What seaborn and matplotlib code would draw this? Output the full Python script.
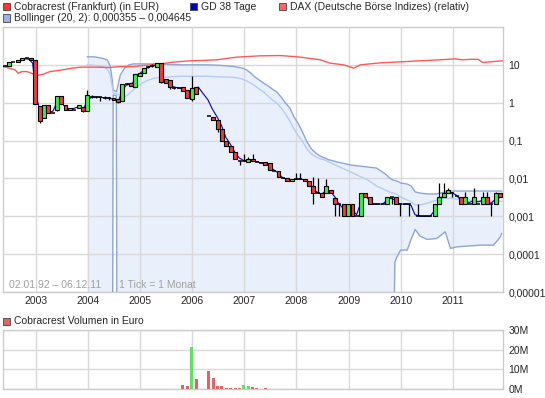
import pandas as pd
import numpy as np
import matplotlib
matplotlib.use("Agg")
import matplotlib.pyplot as plt
import matplotlib.dates as mdates
from matplotlib.patches import Rectangle
import seaborn as sns

sns.set_style("white")
plt.rcParams['font.family'] = ['Liberation Sans', 'DejaVu Sans']

# monatliche Kerzen (Open, High, Low, Close) in EUR
cand_months = [
    "2002-05", "2002-06", "2002-07", "2002-08", "2002-09", "2002-10", "2002-11", "2002-12",
    "2003-01", "2003-02", "2003-03", "2003-04", "2003-05", "2003-06", "2003-07", "2003-08",
    "2003-09", "2003-10", "2003-11", "2003-12",
    "2004-01", "2004-02", "2004-03", "2004-04", "2004-05", "2004-06", "2004-07", "2004-08",
    "2004-09", "2004-10", "2004-11", "2004-12",
    "2005-01", "2005-02", "2005-03", "2005-04", "2005-05", "2005-06", "2005-07", "2005-08",
    "2005-09", "2005-10", "2005-11", "2005-12",
    "2006-01", "2006-04", "2006-05", "2006-06", "2006-07", "2006-08", "2006-09", "2006-10",
    "2006-11", "2006-12",
    "2007-01", "2007-02", "2007-03", "2007-04", "2007-05", "2007-06", "2007-07", "2007-08",
    "2007-09", "2007-10", "2007-11", "2007-12",
    "2008-01", "2008-02", "2008-03", "2008-04", "2008-05", "2008-06", "2008-07", "2008-08",
    "2008-09", "2008-10", "2008-11", "2008-12",
    "2009-01", "2009-02", "2009-03", "2009-04", "2009-05", "2009-06", "2009-07", "2009-08",
    "2009-09", "2009-10", "2009-11", "2009-12",
    "2010-01", "2010-02", "2010-04", "2010-05", "2010-06", "2010-07", "2010-08", "2010-09",
    "2010-10", "2010-11", "2010-12",
    "2011-01", "2011-02", "2011-03", "2011-04", "2011-05", "2011-06", "2011-07", "2011-08",
    "2011-09", "2011-10", "2011-11",
]
cand_open = [
    9.6, 9.4, 12.0, 12.0, 13.3, 15.0, 15.0, 13.3,
    0.82, 0.39, 0.87, 0.53, 0.64, 1.51, 0.87, 0.64,
    0.66, 0.74, 0.76, 0.62,
    1.45, 1.4, 1.4, 1.35, 1.35, 1.37, 1.28, 1.11,
    3.1, 3.4, 2.65, 5.1,
    6.25, 9.0, 9.2, 8.7, 11.5, 4.2, 4.0, 2.5,
    2.4, 2.57, 2.2, 1.24,
    2.57, 0.45, 0.41, 0.35, 0.20, 0.10, 0.072, 0.051,
    0.029, 0.0285,
    0.028, 0.033, 0.028, 0.026, 0.027, 0.026, 0.016, 0.0155,
    0.0102, 0.0101, 0.0084, 0.0097,
    0.0097, 0.0094, 0.0087, 0.0063, 0.0042, 0.0041, 0.0040, 0.0050,
    0.0031, 0.0021, 0.0021, 0.0010,
    0.0021, 0.0010, 0.0010, 0.0040, 0.0032, 0.0021, 0.0021, 0.0021,
    0.0021, 0.0032, 0.0032, 0.0021,
    0.0021, 0.0021, 0.0010, 0.0010, 0.0010, 0.0010, 0.0010, 0.0021,
    0.0032, 0.0040, 0.0040,
    0.0035, 0.0032, 0.0021, 0.0021, 0.0021, 0.0021, 0.0021, 0.0032,
    0.0021, 0.0021, 0.0040,
]
cand_high = [
    9.8, 11.8, 12.0, 13.5, 15.0, 15.0, 15.0, 13.3,
    0.82, 0.87, 0.87, 0.55, 1.51, 1.51, 0.87, 0.74,
    0.66, 0.87, 0.76, 2.2,
    1.6, 1.5, 1.45, 1.5, 1.4, 1.37, 1.28, 3.14,
    3.3, 3.4, 5.8, 6.25,
    8.2, 9.6, 10.5, 11.5, 11.5, 4.2, 4.0, 2.6,
    2.4, 2.57, 2.2, 5.0,
    2.57, 0.45, 0.41, 0.35, 0.20, 0.10, 0.072, 0.051,
    0.029, 0.045,
    0.036, 0.045, 0.028, 0.026, 0.027, 0.026, 0.016, 0.0155,
    0.0102, 0.0101, 0.0096, 0.014,
    0.014, 0.0094, 0.0087, 0.011, 0.010, 0.0041, 0.0095, 0.0050,
    0.0031, 0.0021, 0.0021, 0.0021,
    0.0021, 0.0010, 0.0040, 0.0040, 0.0032, 0.0021, 0.0021, 0.0021,
    0.0032, 0.0032, 0.0032, 0.0021,
    0.0021, 0.0021, 0.0021, 0.0010, 0.0010, 0.0010, 0.0021, 0.0075,
    0.0075, 0.0055, 0.0040,
    0.0035, 0.0032, 0.0045, 0.0021, 0.0055, 0.0021, 0.0045, 0.0045,
    0.0021, 0.0045, 0.0040,
]
cand_low = [
    9.4, 9.4, 12.0, 12.0, 13.3, 15.0, 13.3, 0.93,
    0.29, 0.39, 0.53, 0.53, 0.60, 0.91, 0.64, 0.64,
    0.66, 0.74, 0.58, 0.62,
    1.3, 1.3, 1.1, 1.25, 1.2, 1.18, 1.0, 1.11,
    2.9, 2.8, 2.65, 5.1,
    6.25, 8.5, 8.8, 8.7, 3.3, 3.3, 2.3, 2.3,
    2.4, 2.1, 1.3, 1.1,
    1.7, 0.45, 0.35, 0.17, 0.10, 0.07, 0.051, 0.032,
    0.022, 0.0285,
    0.028, 0.029, 0.028, 0.026, 0.023, 0.017, 0.016, 0.011,
    0.0102, 0.0086, 0.0084, 0.0097,
    0.0097, 0.0083, 0.0063, 0.0021, 0.0042, 0.0032, 0.0040, 0.0040,
    0.0010, 0.0010, 0.0010, 0.0010,
    0.0010, 0.0010, 0.0010, 0.0032, 0.0021, 0.0021, 0.0021, 0.0021,
    0.0021, 0.0021, 0.0021, 0.0010,
    0.0021, 0.0010, 0.0010, 0.0010, 0.0010, 0.0010, 0.0010, 0.0021,
    0.0032, 0.0040, 0.0032,
    0.0035, 0.0021, 0.0021, 0.0021, 0.0021, 0.0021, 0.0021, 0.0021,
    0.0010, 0.0021, 0.0032,
]
cand_close = [
    9.6, 11.8, 12.0, 13.5, 15.0, 15.0, 13.3, 0.93,
    0.32, 0.87, 0.53, 0.53, 1.51, 0.91, 0.64, 0.74,
    0.66, 0.87, 0.62, 1.58,
    1.45, 1.4, 1.4, 1.35, 1.35, 1.18, 1.07, 3.14,
    3.1, 2.8, 5.8, 6.25,
    8.2, 9.0, 9.2, 11.5, 3.5, 3.3, 2.6, 2.5,
    2.4, 2.1, 1.3, 2.4,
    1.7, 0.45, 0.35, 0.20, 0.10, 0.07, 0.051, 0.032,
    0.029, 0.029,
    0.032, 0.029, 0.028, 0.026, 0.023, 0.017, 0.016, 0.011,
    0.0102, 0.0086, 0.0096, 0.0097,
    0.0097, 0.0083, 0.0063, 0.0041, 0.0042, 0.0032, 0.0062, 0.0040,
    0.0021, 0.0021, 0.0010, 0.0021,
    0.0010, 0.0010, 0.0040, 0.0032, 0.0021, 0.0021, 0.0021, 0.0021,
    0.0032, 0.0032, 0.0021, 0.0021,
    0.0021, 0.0021, 0.0010, 0.0010, 0.0010, 0.0010, 0.0021, 0.0032,
    0.0040, 0.0050, 0.0040,
    0.0035, 0.0021, 0.0032, 0.0021, 0.0032, 0.0021, 0.0032, 0.0021,
    0.0021, 0.0040, 0.0032,
]

# GD 38 Tage
gd_dates = [
    "2002-10-15", "2002-11-15", "2002-12-10", "2002-12-25", "2003-01-10", "2003-02-01",
    "2003-03-01", "2003-04-01", "2003-05-01", "2003-06-01", "2003-07-01", "2003-08-01",
    "2003-09-01", "2003-10-01", "2003-11-01", "2003-12-01", "2004-01-01", "2004-02-01",
    "2004-04-01", "2004-06-01", "2004-07-01", "2004-08-01", "2004-09-01", "2004-10-01",
    "2004-11-01", "2004-12-01", "2005-01-01", "2005-02-01", "2005-03-01", "2005-04-01",
    "2005-05-01", "2005-05-25", "2005-06-15", "2005-07-15", "2005-08-15", "2005-09-15",
    "2005-10-15", "2005-11-15", "2005-12-15", "2006-01-15", "2006-02-12", "2006-03-15",
    "2006-04-21", "2006-05-20", "2006-06-24", "2006-07-25", "2006-08-25", "2006-09-25",
    "2006-10-25", "2006-11-25", "2006-12-25", "2007-01-25", "2007-02-25", "2007-03-25",
    "2007-04-25", "2007-05-25", "2007-06-25", "2007-07-25", "2007-08-25", "2007-09-25",
    "2007-10-25", "2007-11-25", "2007-12-25", "2008-01-25", "2008-02-25", "2008-03-25",
    "2008-04-25", "2008-05-25", "2008-06-25", "2008-07-25", "2008-08-25", "2008-09-25",
    "2008-10-25", "2008-11-25", "2008-12-25", "2009-01-25", "2009-02-25", "2009-03-25",
    "2009-04-25", "2009-05-25", "2009-06-25", "2009-08-25", "2009-09-25", "2009-10-25",
    "2009-11-25", "2009-12-25", "2010-02-25", "2010-03-15", "2010-04-10", "2010-05-25",
    "2010-07-25", "2010-08-25", "2010-09-25", "2010-10-25", "2010-11-25", "2010-12-25",
    "2011-01-25", "2011-02-25", "2011-03-25", "2011-04-25", "2011-05-25", "2011-06-25",
    "2011-07-25", "2011-08-25", "2011-09-25", "2011-10-25", "2011-11-25",
]
gd_values = [
    14.5, 14.0, 11.0, 3.0, 1.2, 0.6,
    0.62, 0.55, 0.6, 1.1, 1.0, 0.7,
    0.68, 0.72, 0.8, 0.7, 1.2, 1.42,
    1.38, 1.32, 1.2, 1.1, 2.2, 3.1,
    3.0, 4.5, 6.0, 7.5, 8.8, 9.2,
    10.2, 7.0, 4.2, 3.6, 2.7, 2.5,
    2.4, 2.0, 1.6, 2.1, 2.6, 1.8,
    1.19, 0.7, 0.42, 0.25, 0.12, 0.08,
    0.05, 0.035, 0.03, 0.03, 0.031, 0.028,
    0.026, 0.025, 0.021, 0.017, 0.014, 0.0105,
    0.0095, 0.009, 0.0095, 0.0097, 0.0092, 0.0075,
    0.0055, 0.0043, 0.0038, 0.0048, 0.0046, 0.0033,
    0.0021, 0.0016, 0.0015, 0.0015, 0.0011, 0.0022,
    0.0035, 0.0027, 0.0021, 0.0021, 0.0026, 0.003,
    0.0026, 0.0021, 0.0021, 0.0019, 0.0011, 0.001,
    0.001, 0.0014, 0.0025, 0.0035, 0.0045, 0.0042,
    0.0036, 0.0027, 0.0026, 0.0023, 0.0026, 0.0024,
    0.0026, 0.0025, 0.0022, 0.0028, 0.0031,
]

# DAX (relativ)
dax_dates = [
    "2002-05-16", "2002-06-13", "2002-08-08", "2002-08-31", "2002-09-24", "2002-10-29",
    "2002-12-03", "2003-01-08", "2003-02-23", "2003-04-11", "2003-06-08", "2003-08-06",
    "2003-09-10", "2003-11-18", "2004-02-08", "2004-06-05", "2004-08-02", "2004-11-15",
    "2005-01-24", "2005-05-21", "2005-08-22", "2005-12-17", "2006-02-25", "2006-06-22",
    "2006-11-09", "2007-04-21", "2007-09-09", "2007-12-11", "2008-01-27", "2008-06-16",
    "2008-08-24", "2008-11-26", "2009-02-05", "2009-03-23", "2009-08-10", "2009-12-29",
    "2010-05-17", "2010-10-05", "2011-01-17", "2011-03-07", "2011-05-10", "2011-06-28",
    "2011-07-27", "2011-09-20", "2011-12-15",
]
dax_values = [
    9.0, 8.5, 7.4, 6.0, 6.65, 6.65,
    6.0, 5.2, 5.7, 6.65, 7.1, 7.7,
    8.2, 8.7, 8.7, 8.5, 9.0, 9.0,
    9.6, 10.6, 11.8, 12.8, 13.0, 13.6,
    16.0, 17.3, 17.6, 16.6, 16.0, 13.6,
    11.1, 10.0, 8.2, 10.0, 11.3, 12.0,
    12.8, 13.6, 14.4, 13.6, 14.0, 14.0,
    11.6, 12.0, 12.8,
]

# Bollinger (20, 2); 0 = unteres Band <= 0 (im Log-Chart nicht sichtbar)
bb_dates = [
    "2003-12-26", "2004-02-15", "2004-04-15", "2004-05-15", "2004-06-05", "2004-06-20",
    "2004-06-26", "2004-07-18", "2004-07-24", "2004-08-15", "2004-09-15", "2004-10-15",
    "2004-11-15", "2004-12-15", "2005-02-15", "2005-04-15", "2005-07-15", "2005-10-15",
    "2006-01-15", "2006-04-15", "2006-07-15", "2006-10-15", "2006-12-15", "2007-01-15",
    "2007-02-15", "2007-03-15", "2007-04-15", "2007-05-15", "2007-06-15", "2007-07-15",
    "2007-08-15", "2007-09-15", "2007-10-15", "2007-11-15", "2007-12-15", "2008-01-15",
    "2008-02-15", "2008-03-15", "2008-04-15", "2008-05-15", "2008-06-15", "2008-07-15",
    "2008-08-15", "2008-09-15", "2008-10-15", "2008-11-15", "2008-12-15", "2009-01-15",
    "2009-03-15", "2009-05-15", "2009-07-15", "2009-08-15", "2009-09-15", "2009-10-15",
    "2009-11-05", "2009-11-20", "2009-12-05", "2009-12-31", "2010-02-15", "2010-03-15",
    "2010-04-12", "2010-05-15", "2010-07-05", "2010-09-10", "2010-11-08", "2010-12-15",
    "2011-01-30", "2011-07-12", "2011-10-12", "2011-11-28", "2011-12-10",
]
bb_upper = [
    16.3, 16.3, 14.8, 13.5, 9.4, 3.8,
    2.2, 1.93, 2.3, 5.4, 8.3, 10.0,
    10.6, 10.6, 10.6, 10.6, 10.3, 10.0,
    10.0, 10.0, 9.7, 9.1, 8.3, 7.4,
    6.1, 4.8, 4.0, 3.3, 2.8, 2.3,
    1.93, 1.42, 0.99, 0.73, 0.42, 0.275,
    0.159, 0.092, 0.060, 0.047, 0.039, 0.035,
    0.031, 0.029, 0.027, 0.0255, 0.024, 0.0226,
    0.0213, 0.020, 0.0188, 0.0157, 0.0131, 0.0103,
    0.0091, 0.0088, 0.0085, 0.0076, 0.0071, 0.0063,
    0.0044, 0.0041, 0.0039, 0.0039, 0.0044, 0.00465,
    0.00465, 0.00465, 0.00465, 0.00465, 0.004645,
]
bb_middle = [
    10.0, 9.7, 8.9, 7.8, 5.4, 2.6,
    1.8, 1.71, 1.65, 1.61, 1.42, 1.71,
    2.2, 2.8, 3.8, 4.5, 4.8, 5.0,
    5.0, 5.0, 4.8, 4.7, 4.25, 3.8,
    3.3, 2.8, 2.3, 1.93, 1.51, 1.19,
    0.99, 0.73, 0.51, 0.33, 0.20, 0.132,
    0.092, 0.060, 0.044, 0.037, 0.033, 0.031,
    0.027, 0.024, 0.0213, 0.0188, 0.0167, 0.0148,
    0.0116, 0.0091, 0.0063, 0.0056, 0.0049, 0.0044,
    0.0041, 0.0040, 0.0037, 0.0032, 0.0027, 0.0024,
    0.0020, 0.0020, 0.0022, 0.0027, 0.0030, 0.0030,
    0.00285, 0.0025, 0.0025, 0.0025, 0.0025,
]
bb_lower = [
    0, 0, 0, 0, 0, 0,
    1.6, 1.51, 0, 0, 0, 0,
    0, 0, 0, 0, 0, 0,
    0, 0, 0, 0, 0, 0,
    0, 0, 0, 0, 0, 0,
    0, 0, 0, 0, 0, 0,
    0, 0, 0, 0, 0, 0,
    0, 0, 0, 0, 0, 0,
    0, 0, 0, 0, 0, 0,
    0, 0.00006, 0.000085, 0.000128, 0.000128, 0.00025,
    0.00045, 0.0003, 0.000245, 0.00026, 0.00039, 0.000142,
    0.000156, 0.000173, 0.000173, 0.00028, 0.000355,
]

# Volumen in Euro
vol_months = ["2005-10", "2005-11", "2005-12", "2006-01", "2006-04", "2006-05", "2006-06",
              "2006-07", "2006-08", "2006-09", "2006-10", "2006-11", "2006-12", "2007-01",
              "2007-02", "2007-03", "2007-05"]
vol_euro = [2.2e6, 1.7e6, 21.2e6, 5.2e6, 9.2e6, 5.8e6, 1.7e6,
            1.7e6, 0.7e6, 0.7e6, 0.7e6, 0.7e6, 2.2e6, 1.7e6,
            1.2e6, 0.7e6, 0.7e6]

year_ticks = [str(y) for y in range(2003, 2012)]
price_ticks = [1e-5, 1e-4, 1e-3, 1e-2, 1e-1, 1, 10]
price_labels = ["0,00001", "0,0001", "0,001", "0,01", "0,1", "1", "10"]
vol_ticks = [0, 10e6, 20e6, 30e6]
vol_labels = ["0M", "10M", "20M", "30M"]

RED = "#f23a3a"
GREEN = "#3ff03f"
GRID = "#d9d9d9"

W, H = 545, 398
fig = plt.figure(figsize=(W / 100, H / 100), dpi=100)


def box(l, t, r, b):
    return [l / W, 1 - b / H, (r - l) / W, (b - t) / H]


def num(dates):
    return mdates.date2num(pd.to_datetime(dates))


ax = fig.add_axes(box(3, 27, 503, 292))
axv = fig.add_axes(box(3, 330, 503, 389))

x_left = num(["2002-05-16"])[0]
x_right = num(["2011-12-18"])[0]
tick_x = num([y + "-01-01" for y in year_ticks])

# Bollinger-Band
bb_x = num(bb_dates)
lower = np.array(bb_lower, dtype=float)
lower_plot = np.where(lower > 0, lower, 1e-9)
ax.fill_between(bb_x, lower_plot, bb_upper, color="#e9f0fb", lw=0, zorder=1)
sns.lineplot(x=bb_x, y=bb_upper, ax=ax, color="#8ea5d6", lw=1, estimator=None, zorder=3)
sns.lineplot(x=bb_x, y=bb_middle, ax=ax, color="#b6ccf1", lw=1, estimator=None, zorder=3)
sns.lineplot(x=bb_x, y=lower_plot, ax=ax, color="#8ea5d6", lw=1, estimator=None, zorder=3)

# DAX relativ + GD 38
sns.lineplot(x=num(dax_dates), y=dax_values, ax=ax, color="#ff5a5a", lw=1, estimator=None, zorder=3)
sns.lineplot(x=num(gd_dates), y=gd_values, ax=ax, color="#0000cc", lw=0.8, estimator=None, zorder=3.5)

# Kerzen
cx = num([m + "-28" for m in cand_months])
o = np.array(cand_open)
h = np.array(cand_high)
lo = np.array(cand_low)
c = np.array(cand_close)
has_wick = h > lo * 1.001
ax.vlines(cx[has_wick], lo[has_wick], h[has_wick], color="black", lw=0.9, zorder=4)
is_body = (np.maximum(o, c) / np.minimum(o, c)) > 1.02
up = c > o
bot = np.minimum(o, c)
top = np.maximum(o, c)
body_colors = [GREEN if u else RED for u in up[is_body]]
ax.bar(cx[is_body], top[is_body] - bot[is_body], bottom=bot[is_body], width=27,
       color=body_colors, edgecolor="black", lw=0.8, zorder=5)
ax.hlines(c[~is_body], cx[~is_body] - 14, cx[~is_body] + 14, color="black", lw=1.1, zorder=5)

ax.set_yscale("log")
ax.set_ylim(1e-5, 100)
ax.set_xlim(x_left, x_right)
ax.set_xticks(tick_x)
ax.set_xticklabels(year_ticks)
ax.yaxis.tick_right()
ax.set_yticks(price_ticks)
ax.set_yticklabels(price_labels)
ax.yaxis.set_minor_locator(matplotlib.ticker.NullLocator())
ax.set_axisbelow(False)
ax.grid(True, color=GRID, lw=1)
ax.tick_params(length=0, labelsize=7.5, pad=3)
ax.tick_params(axis="y", pad=4)
for s in ax.spines.values():
    s.set_color("#cccccc")
    s.set_linewidth(1)
ax.set_xlabel("")
ax.set_ylabel("")

ax.text(6 / 500, 7 / 265, "02.01.92 \u2013 06.12.11", transform=ax.transAxes,
        color="#a0a0a0", fontsize=7.5, va="center", zorder=6)
ax.text(116 / 500, 7 / 265, "1 Tick = 1 Monat", transform=ax.transAxes,
        color="#a0a0a0", fontsize=7.5, va="center", zorder=6)

# Volumen
dir_by_month = dict(zip(cand_months, c > o))
vx = num([m + "-28" for m in vol_months])
vcol = ["#66dd66" if dir_by_month.get(m, False) else "#e06464" for m in vol_months]
axv.bar(vx, vol_euro, width=21, color=vcol, lw=0, zorder=3)
axv.set_xlim(x_left, x_right)
axv.set_ylim(0, 30e6)
axv.set_xticks(tick_x)
axv.set_xticklabels([])
axv.yaxis.tick_right()
axv.set_yticks(vol_ticks)
axv.set_yticklabels(vol_labels)
axv.grid(True, color=GRID, lw=1)
axv.set_axisbelow(True)
axv.tick_params(length=0, labelsize=7.5, pad=4)
for s in axv.spines.values():
    s.set_color("#cccccc")
    s.set_linewidth(1)

# Legenden
def legend_item(x, y, color, label):
    fig.add_artist(Rectangle((x / W, 1 - (y + 3.5) / H), 7 / W, 7 / H,
                             transform=fig.transFigure, facecolor=color,
                             edgecolor="#444444", lw=0.6))
    fig.text((x + 11) / W, 1 - y / H, label, fontsize=7.5, va="center", ha="left")


legend_item(3, 6.5, "#ff3333", "Cobracrest (Frankfurt) (in EUR)")
legend_item(190, 6.5, "#0000cc", "GD 38 Tage")
legend_item(279, 6.5, "#ff6666", "DAX (Deutsche B\u00f6rse Indizes) (relativ)")
legend_item(3, 18, "#9db4e2", "Bollinger (20, 2): 0,000355 \u2013 0,004645")
legend_item(3, 321, "#dd6666", "Cobracrest Volumen in Euro")

fig.savefig("out.png", dpi=100)
